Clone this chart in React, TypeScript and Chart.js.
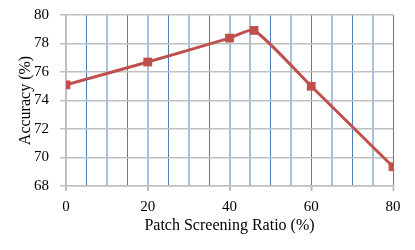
import React, { useEffect, useRef } from "react";
import { Chart, registerables } from "chart.js";

Chart.register(...registerables);

const ratios = [0, 20, 40, 46, 60, 80];
const accuracy = [75.1, 76.7, 78.38, 78.92, 75.0, 69.35];
const xTickLabels = [0, 20, 40, 60, 80];
const darkBlueLines = [5, 15, 25, 35, 50, 60, 70, 80];

export default function App() {
  const ref = useRef<HTMLCanvasElement>(null);
  useEffect(() => {
    document.body.style.margin = "0";
    const family = "'Liberation Serif', 'Times New Roman', serif";
    const tickFont = { family, size: 15 };
    const titleFont = { family, size: 16 };
    const chart = new Chart(ref.current!, {
      type: "line",
      data: {
        datasets: [
          {
            data: ratios.map((x, i) => ({ x, y: accuracy[i] })),
            borderColor: "#c0504d",
            backgroundColor: "#c0504d",
            borderWidth: 3,
            pointStyle: "rect",
            pointRadius: 6.2,
            pointBorderWidth: 0,
            tension: 0.2,
          },
        ],
      },
      options: {
        animation: false,
        responsive: false,
        maintainAspectRatio: false,
        layout: { padding: { top: 15, right: 22, left: 16, bottom: 15 } },
        plugins: { legend: { display: false }, tooltip: { enabled: false } },
        scales: {
          x: {
            type: "linear",
            min: 0,
            max: 80,
            ticks: {
              stepSize: 5,
              autoSkip: false,
              maxRotation: 0,
              color: "#000",
              font: tickFont,
              padding: 7,
              callback: (v: any) => (xTickLabels.includes(Number(v)) ? String(v) : ""),
            },
            grid: {
              color: (ctx: any) => {
                const v = ctx.tick?.value;
                if (v === 0) return "#bfbfbf";
                return darkBlueLines.includes(v) ? "#4a7ebb" : "#a9c1de";
              },
              lineWidth: (ctx: any) => {
                const v = ctx.tick?.value;
                if (v === 0) return 2;
                return darkBlueLines.includes(v) ? 1 : 2;
              },
              tickColor: (ctx: any) =>
                xTickLabels.includes(ctx.tick?.value) ? "#bfbfbf" : "rgba(0,0,0,0)",
              tickWidth: 2,
              tickLength: 5,
            },
            border: { color: "#bfbfbf", width: 1.5 },
            title: {
              display: true,
              text: "Patch Screening Ratio (%)",
              color: "#000",
              font: titleFont,
              padding: { top: 2, bottom: 0 },
            },
            afterFit: (s: any) => {
              s.height = 49;
            },
          },
          y: {
            min: 68,
            max: 80,
            ticks: { stepSize: 2, color: "#000", font: tickFont, padding: 11 },
            grid: { color: "#bfbfbf", lineWidth: 1.5, tickLength: 6, tickColor: "#bfbfbf" },
            border: { color: "#bfbfbf", width: 2 },
            title: {
              display: true,
              text: "Accuracy (%)",
              color: "#000",
              font: titleFont,
              padding: { top: 0, bottom: 2 },
            },
            afterFit: (s: any) => {
              s.width = 50;
              s.paddingTop = 0;
              s.paddingBottom = 0;
            },
          },
        },
      },
    });
    return () => chart.destroy();
  }, []);
  return (
    <div style={{ width: 415, height: 250 }}>
      <canvas ref={ref} width={415} height={250} style={{ display: "block" }} />
    </div>
  );
}
